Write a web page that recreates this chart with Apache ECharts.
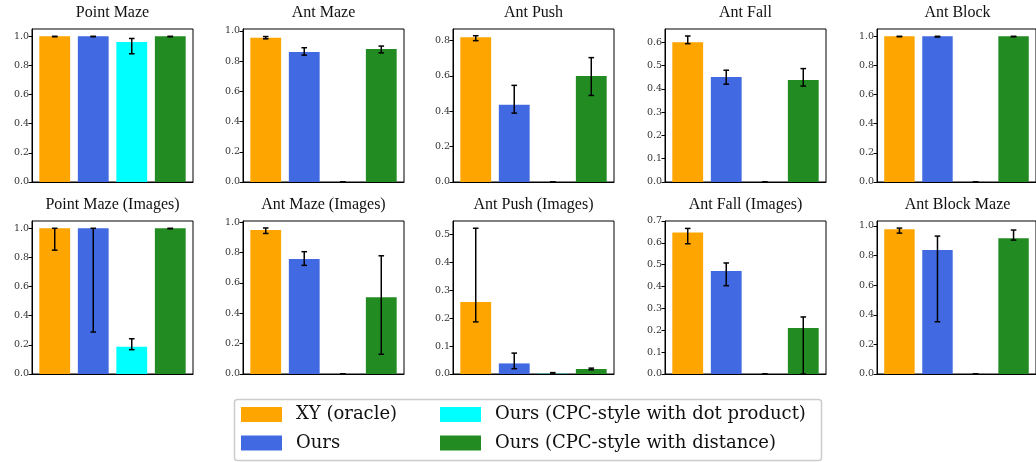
<!DOCTYPE html>
<html>
<head>
<meta charset="utf-8">
<script src="https://cdn.jsdelivr.net/npm/echarts@6/dist/echarts.min.js"></script>
<style>
html,body{margin:0;padding:0;background:#fff;}
#chart{width:1036px;height:462px;}
</style>
</head>
<body>
<div id="chart"></div>
<script>
const methods = ['XY (oracle)', 'Ours', 'Ours (CPC-style with dot product)', 'Ours (CPC-style with distance)'];
const colors = ['#FFA500', '#4169E1', '#00FFFF', '#228B22'];
const titles = ['Point Maze', 'Ant Maze', 'Ant Push', 'Ant Fall', 'Ant Block',
  'Point Maze (Images)', 'Ant Maze (Images)', 'Ant Push (Images)', 'Ant Fall (Images)', 'Ant Block Maze'];

// mean success per panel: [XY, Ours, CPC dot, CPC dist]
const means = [
  [1.0, 1.0, 0.96, 1.0],
  [0.955, 0.86, 0, 0.88],
  [0.82, 0.437, 0, 0.60],
  [0.60, 0.451, 0, 0.438],
  [1.0, 1.0, 0, 1.0],
  [1.0, 1.0, 0.187, 1.0],
  [0.947, 0.757, 0, 0.505],
  [0.258, 0.038, 0.001, 0.018],
  [0.647, 0.471, 0, 0.21],
  [0.978, 0.838, 0, 0.917]
];
const errLow = [
  [0.997, 0.997, 0.88, 0.997],
  [0.948, 0.84, 0, 0.855],
  [0.80, 0.39, 0, 0.49],
  [0.594, 0.42, 0, 0.412],
  [0.997, 0.995, 0, 0.997],
  [0.85, 0.288, 0.167, 0.997],
  [0.925, 0.715, 0, 0.13],
  [0.187, 0.019, 0, 0.015],
  [0.596, 0.404, 0, 0],
  [0.952, 0.353, 0, 0.905]
];
const errHigh = [
  [1.0, 1.0, 0.985, 1.0],
  [0.963, 0.889, 0, 0.90],
  [0.828, 0.547, 0, 0.704],
  [0.627, 0.48, 0, 0.487],
  [1.0, 1.0, 0, 1.0],
  [1.0, 1.0, 0.242, 1.0],
  [0.961, 0.805, 0, 0.778],
  [0.523, 0.075, 0.005, 0.021],
  [0.666, 0.508, 0, 0.261],
  [0.986, 0.932, 0, 0.973]
];
const yMax = [1.05, 1.013, 0.866, 0.657, 1.05, 1.05, 1.007, 0.549, 0.7, 1.034];
const yTicks = [
  [0, 0.2, 0.4, 0.6, 0.8, 1.0],
  [0, 0.2, 0.4, 0.6, 0.8, 1.0],
  [0, 0.2, 0.4, 0.6, 0.8],
  [0, 0.1, 0.2, 0.3, 0.4, 0.5, 0.6],
  [0, 0.2, 0.4, 0.6, 0.8, 1.0],
  [0, 0.2, 0.4, 0.6, 0.8, 1.0],
  [0, 0.2, 0.4, 0.6, 0.8, 1.0],
  [0, 0.1, 0.2, 0.3, 0.4, 0.5],
  [0, 0.1, 0.2, 0.3, 0.4, 0.5, 0.6, 0.7],
  [0, 0.2, 0.4, 0.6, 0.8, 1.0]
];

// layout
const colLeft = [32, 243, 453, 665, 877];
const rowTop = [29, 221];
const gW = 161, gH = 153;
const titleTop = [4.5, 196.5];

const chart = echarts.init(document.getElementById('chart'));
const grid = [], xAxis = [], yAxis = [], series = [], title = [];

for (let p = 0; p < 10; p++) {
  const r = Math.floor(p / 5), c = p % 5;
  grid.push({left: colLeft[c], top: rowTop[r], width: gW, height: gH, show: true,
    borderColor: '#000', borderWidth: 1, backgroundColor: 'transparent', containLabel: false});
  xAxis.push({gridIndex: p, type: 'value', min: -0.59, max: 3.59,
    axisLine: {show: true, onZero: false, lineStyle: {color: '#000', width: 1}},
    axisTick: {show: false}, axisLabel: {show: false}, splitLine: {show: false}});
  yAxis.push({gridIndex: p, type: 'value', min: 0, max: yMax[p],
    axisLine: {show: true, onZero: false, lineStyle: {color: '#000', width: 1}},
    axisTick: {show: true, length: 3.5, lineStyle: {color: '#000', width: 1}, customValues: yTicks[p]},
    axisLabel: {show: true, customValues: yTicks[p], fontFamily: 'DejaVu Serif', fontSize: 9.5, color: '#333', margin: 3,
      formatter: v => v.toFixed(1)},
    splitLine: {show: false}});
  title.push({text: titles[p], left: colLeft[c] + gW / 2, top: titleTop[r], textAlign: 'center', padding: 0,
    textStyle: {fontFamily: 'Liberation Serif', fontSize: 16, fontWeight: 'normal', color: '#111'}});
  for (let m = 0; m < 4; m++) {
    series.push({
      type: 'custom', name: methods[m], xAxisIndex: p, yAxisIndex: p,
      itemStyle: {color: colors[m]},
      data: [[m, means[p][m]]],
      renderItem: (params, api) => {
        const x = api.value(0), y = api.value(1);
        const a = api.coord([x - 0.4, 0]);
        const b = api.coord([x + 0.4, y]);
        return {type: 'rect', shape: {x: a[0], y: b[1], width: b[0] - a[0], height: a[1] - b[1]},
          style: {fill: colors[m]}};
      }
    });
  }
  series.push({
    type: 'custom', name: 'err' + p, xAxisIndex: p, yAxisIndex: p, z: 5,
    data: [0, 1, 2, 3].map(m => [m, errLow[p][m], errHigh[p][m]]),
    renderItem: (params, api) => {
      const x = api.value(0);
      const lo = api.coord([x, api.value(1)]);
      const hi = api.coord([x, api.value(2)]);
      const cw = 2.8;
      const st = {stroke: '#000', lineWidth: 1.5};
      return {type: 'group', children: [
        {type: 'line', shape: {x1: lo[0], y1: lo[1], x2: hi[0], y2: hi[1]}, style: st},
        {type: 'line', shape: {x1: lo[0] - cw, y1: lo[1], x2: lo[0] + cw, y2: lo[1]}, style: st},
        {type: 'line', shape: {x1: hi[0] - cw, y1: hi[1], x2: hi[0] + cw, y2: hi[1]}, style: st}
      ]};
    }
  });
}

const legendText = {fontFamily: 'DejaVu Serif', fontSize: 18, color: '#111', padding: [0, 0, 0, 9]};
const option = {
  animation: false,
  backgroundColor: '#fff',
  title: title,
  grid: grid, xAxis: xAxis, yAxis: yAxis, series: series,
  graphic: [{type: 'rect', z: 0, shape: {x: 234.5, y: 399.5, width: 587, height: 61, r: 3},
    style: {fill: '#fff', stroke: '#cccccc', lineWidth: 1.5}}],
  legend: [
    {data: methods.slice(0, 2), orient: 'vertical', left: 241, top: 405.5, height: 120, padding: 0,
      itemWidth: 41, itemHeight: 15, itemGap: 10.5, icon: 'rect', textStyle: legendText, z: 10, selectedMode: false},
    {data: methods.slice(2, 4), orient: 'vertical', left: 440, top: 405.5, height: 120, padding: 0,
      itemWidth: 41, itemHeight: 15, itemGap: 10.5, icon: 'rect', textStyle: legendText, z: 10, selectedMode: false}
  ]
};
chart.setOption(option);
</script>
</body>
</html>
